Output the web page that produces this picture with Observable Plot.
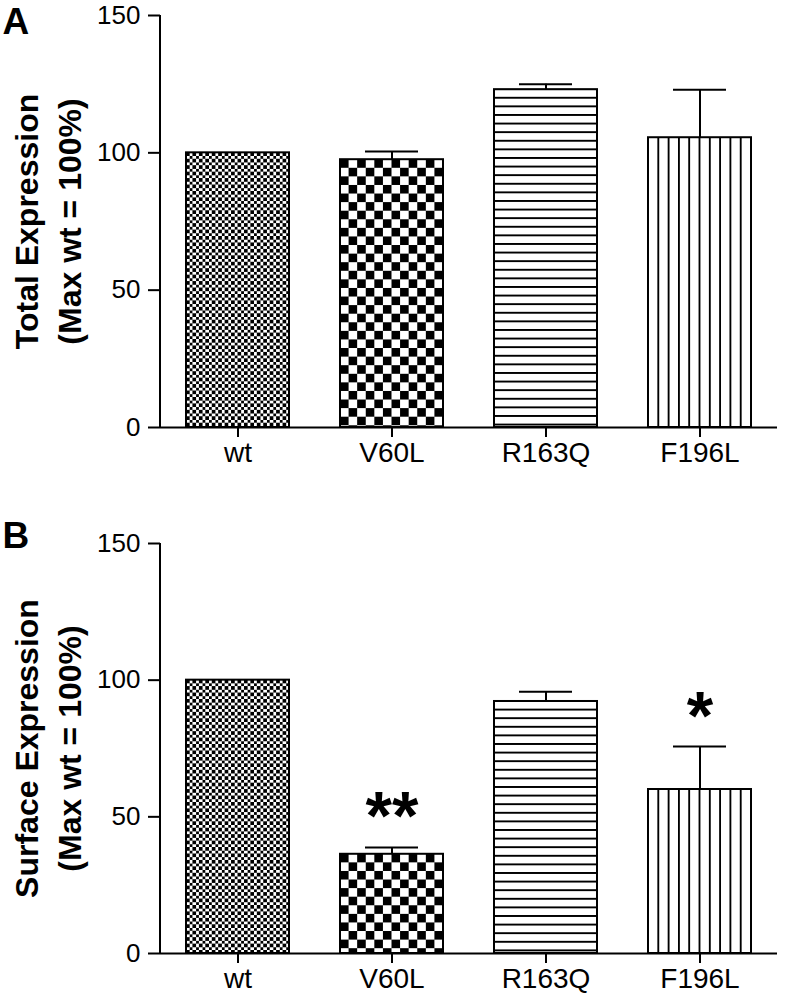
<!DOCTYPE html>
<html>
<head>
<meta charset="utf-8">
<script src="https://cdn.jsdelivr.net/npm/d3@7"></script>
<script src="https://cdn.jsdelivr.net/npm/@observablehq/plot@0.6"></script>
<style>
  html, body { margin: 0; padding: 0; background: #fff; }
  #chart svg { display: block; }
</style>
</head>
<body>
<div id="chart"></div>
<script>
// ---- data ----
const categories = ["wt", "V60L", "R163Q", "F196L"];
const totalMean = [100, 97.5, 123, 105.5];
const totalErr = [0, 3, 2, 17.5];
const surfaceMean = [100, 36.3, 92.2, 60];
const surfaceErr = [0, 2.5, 3.6, 15.7];
const surfaceSig = ["", "**", "", "*"];
const yTicks = [0, 50, 100, 150];
const panelLetters = ["A", "B"];
const yLabels = ["Total Expression\n(Max wt = 100%)", "Surface Expression\n(Max wt = 100%)"];

const FONT = "'Liberation Sans', Arial, Helvetica, sans-serif";

function makePanel(prefix, letter, ylabel, means, errs, sigs, opts) {
  const data = categories.map((c, i) => ({cat: c, val: means[i], err: errs[i], sig: sigs ? sigs[i] : "", idx: i}));
  const errData = data.filter(d => d.err > 0);
  const sigData = data.filter(d => d.sig);
  const svg = Plot.plot({
    width: 788,
    height: opts.height,
    marginLeft: 160,
    marginRight: 11,
    marginTop: opts.marginTop,
    marginBottom: opts.marginBottom,
    style: {fontFamily: FONT, color: "#000", background: "#fff", overflow: "visible"},
    x: {domain: categories, paddingInner: 0.33, paddingOuter: 0.165, label: null},
    y: {domain: [0, 150], label: null},
    color: {type: "identity"},
    marks: [
      Plot.barY(data, {x: "cat", y: "val", fill: d => `url(#${prefix}-${d.idx})`, stroke: "#000", strokeWidth: 2}),
      Plot.ruleX(errData, {x: "cat", y1: "val", y2: d => d.val + d.err, stroke: "#000", strokeWidth: 2}),
      Plot.tickY(errData, {x: "cat", y: d => d.val + d.err, insetLeft: 25, insetRight: 25, stroke: "#000", strokeWidth: 2}),
      Plot.text(sigData, {x: "cat", y: d => d.val + d.err, text: "sig", lineAnchor: "bottom", dy: -8, fontSize: 68, fontWeight: "bold", fill: "#000"}),
      Plot.ruleY([0], {stroke: "#000", strokeWidth: 2}),
      (index, scales, values, dims) => {
        const g = d3.create("svg:line")
          .attr("x1", dims.marginLeft).attr("x2", dims.marginLeft)
          .attr("y1", dims.marginTop).attr("y2", dims.height - dims.marginBottom + 1)
          .attr("stroke", "#000").attr("stroke-width", 2);
        return g.node();
      },
      Plot.axisY({ticks: yTicks, tickSize: 12, tickPadding: 8, fontSize: 26, strokeWidth: 2, label: null}),
      Plot.axisX({tickSize: 10, tickPadding: 5, fontSize: 28, strokeWidth: 2, label: null}),
      Plot.text([letter], {frameAnchor: "top-left", textAnchor: "start", lineAnchor: "top", dx: -158, dy: opts.letterDy, fontSize: 37, fontWeight: "bold", fill: "#000"}),
      Plot.text([ylabel], {frameAnchor: "left", rotate: -90, textAnchor: "middle", lineAnchor: "middle", dx: -115, lineHeight: 1.35, fontSize: 32, fontWeight: "bold", fill: "#000"})
    ]
  });

  // patterns aligned to bars via the plot's scales
  const xs = svg.scale("x"), ys = svg.scale("y");
  const bw = xs.bandwidth;
  const defs = d3.select(svg).insert("defs", ":first-child");
  data.forEach(d => {
    const x0 = xs.apply(d.cat), yTop = ys.apply(d.val);
    const p = defs.append("pattern").attr("id", `${prefix}-${d.idx}`).attr("patternUnits", "userSpaceOnUse")
      .attr("shape-rendering", "crispEdges");
    if (d.idx === 0 || d.idx === 1) {
      const s = d.idx === 0 ? bw / 32 : bw / 12;
      p.attr("x", x0).attr("y", yTop).attr("width", 2 * s).attr("height", 2 * s);
      p.append("rect").attr("width", 2 * s).attr("height", 2 * s).attr("fill", "#fff");
      p.append("rect").attr("x", 0).attr("y", 0).attr("width", s).attr("height", s).attr("fill", "#000");
      p.append("rect").attr("x", s).attr("y", s).attr("width", s).attr("height", s).attr("fill", "#000");
    } else if (d.idx === 2) {
      const h = 8.6;
      p.attr("x", x0).attr("y", yTop).attr("width", 20).attr("height", h);
      p.append("rect").attr("width", 20).attr("height", h).attr("fill", "#fff");
      p.append("rect").attr("y", 0).attr("width", 20).attr("height", 1).attr("fill", "#000");
      p.append("rect").attr("y", h - 1).attr("width", 20).attr("height", 1).attr("fill", "#000");
    } else {
      const w = bw / 10;
      p.attr("x", x0).attr("y", 0).attr("width", w).attr("height", 20);
      p.append("rect").attr("width", w).attr("height", 20).attr("fill", "#fff");
      p.append("rect").attr("x", 0).attr("width", 1).attr("height", 20).attr("fill", "#000");
      p.append("rect").attr("x", w - 1).attr("width", 1).attr("height", 20).attr("fill", "#000");
    }
  });
  return svg;
}

const chart = document.getElementById("chart");
chart.appendChild(makePanel("pa", panelLetters[0], yLabels[0], totalMean, totalErr, null,
  {height: 500, marginTop: 15, marginBottom: 73, letterDy: -8}));
chart.appendChild(makePanel("pb", panelLetters[1], yLabels[1], surfaceMean, surfaceErr, surfaceSig,
  {height: 498, marginTop: 43, marginBottom: 45, letterDy: -22}));
</script>
</body>
</html>
